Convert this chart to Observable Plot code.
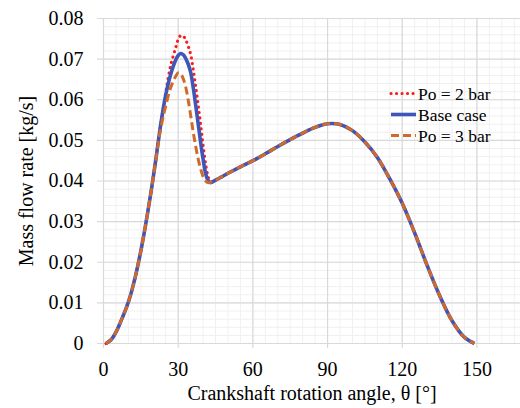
<!DOCTYPE html>
<html>
<head>
<meta charset="utf-8">
<script src="https://cdn.jsdelivr.net/npm/d3@7"></script>
<script src="https://cdn.jsdelivr.net/npm/@observablehq/plot@0.6"></script>
<style>
  html, body { margin: 0; padding: 0; background: #fff; }
  #chart { width: 520px; height: 408px; }
  #chart svg, #chart svg text { font-family: "Liberation Serif", "Times New Roman", Times, Tinos, "DejaVu Serif", "Noto Serif", serif !important; }
</style>
</head>
<body>
<div id="chart"></div>
<script>
const angles = [1,3,5,7,9,11,13,15,17,19,20,21,22,23,25,27,29,30,31,32,33,34,35,36,37,38,39,40,41,42,43,45,50,55,60,65,70,75,80,85,90,95,100,105,110,115,120,125,130,135,140,145,149];
const baseCase = [0,0.0009,0.0028,0.0055,0.0085,0.0122,0.0170,0.0228,0.0295,0.0370,0.0410,0.0452,0.0497,0.0540,0.0612,0.0663,0.0698,0.0709,0.0714,0.0711,0.0702,0.0688,0.0668,0.0632,0.0588,0.0542,0.0496,0.0454,0.0419,0.0401,0.0396,0.0402,0.0419,0.0435,0.0450,0.0467,0.0485,0.0502,0.0518,0.0532,0.0541,0.0539,0.0524,0.0496,0.0458,0.0405,0.0345,0.0272,0.0192,0.0118,0.0056,0.0015,0];
const po2bar = [0,0.0009,0.0028,0.0055,0.0085,0.0122,0.0170,0.0228,0.0295,0.0370,0.0410,0.0452,0.0497,0.0540,0.0618,0.0685,0.0728,0.0748,0.0758,0.0757,0.0748,0.0732,0.0712,0.0676,0.0634,0.0588,0.0540,0.0488,0.0443,0.0411,0.0398,0.0402,0.0419,0.0435,0.0450,0.0467,0.0485,0.0502,0.0518,0.0532,0.0541,0.0539,0.0524,0.0496,0.0458,0.0405,0.0345,0.0272,0.0192,0.0118,0.0056,0.0015,0];
const po3bar = [0,0.0009,0.0028,0.0055,0.0085,0.0122,0.0170,0.0228,0.0295,0.0370,0.0410,0.0450,0.0493,0.0530,0.0585,0.0630,0.0658,0.0666,0.0664,0.0652,0.0632,0.0600,0.0562,0.0522,0.0486,0.0455,0.0430,0.0411,0.0400,0.0396,0.0397,0.0402,0.0419,0.0435,0.0450,0.0467,0.0485,0.0502,0.0518,0.0532,0.0541,0.0539,0.0524,0.0496,0.0458,0.0405,0.0345,0.0272,0.0192,0.0118,0.0056,0.0015,0];
const seriesNames = ["Po = 2 bar", "Base case", "Po = 3 bar"];
const xTicks = [0, 30, 60, 90, 120, 150];
const yTicks = [0, 0.01, 0.02, 0.03, 0.04, 0.05, 0.06, 0.07, 0.08];
const xMinor = d3.range(0, 170, 5);
const yMinor = d3.range(0, 0.0801, 0.002);

const mk = (vals) => angles.map((a, i) => ({angle: a, value: vals[i]}));
const dPo2 = mk(po2bar), dBase = mk(baseCase), dPo3 = mk(po3bar);

const styles = [
  {stroke: "#ff1a1a", strokeWidth: 3.1, strokeDasharray: "0.1 5.4", strokeLinecap: "round"},
  {stroke: "#3f56b8", strokeWidth: 3.6, strokeDasharray: null, strokeLinecap: "butt"},
  {stroke: "#d06a2a", strokeWidth: 3, strokeDasharray: "8 4", strokeLinecap: "butt"}
];

const font = "Liberation Serif, Times New Roman, serif";

const plot = Plot.plot({
  width: 520,
  height: 408,
  marginLeft: 103,
  marginRight: 0,
  marginTop: 18,
  marginBottom: 65,
  style: {fontSize: "20px", color: "#000", background: "#fff", overflow: "visible"},
  x: {domain: [0, 167.5]},
  y: {domain: [0, 0.08]},
  marks: [
    Plot.ruleX(xMinor, {stroke: "#f0f0f0", strokeWidth: 1}),
    Plot.ruleY(yMinor, {stroke: "#f0f0f0", strokeWidth: 1}),
    Plot.ruleX(xTicks, {stroke: "#d9d9d9", strokeWidth: 1.2, insetBottom: -5}),
    Plot.ruleY(yTicks, {stroke: "#d9d9d9", strokeWidth: 1.2, insetLeft: -6}),
    Plot.axisX(xTicks, {tickSize: 0, tickPadding: 18, fontSize: 20, label: "Crankshaft rotation angle, θ [°]", labelAnchor: "center", labelArrow: "none", labelOffset: 56}),
    Plot.axisY(yTicks, {tickSize: 0, tickPadding: 20, fontSize: 20, tickFormat: d => d === 0 ? "0" : d3.format(".2f")(d), label: "Mass flow rate [kg/s]", labelAnchor: "center", labelArrow: "none", labelOffset: 85}),
    Plot.line(dPo2, {x: "angle", y: "value", curve: "catmull-rom", ...styles[0]}),
    Plot.line(dBase, {x: "angle", y: "value", curve: "catmull-rom", ...styles[1]}),
    Plot.line(dPo3, {x: "angle", y: "value", curve: "catmull-rom", ...styles[2]})
  ]
});
document.getElementById("chart").appendChild(plot);

// legend inside the plot area
const svg = d3.select(plot);
const lg = svg.append("g").attr("font-size", "17.5px").attr("text-anchor", "start");
seriesNames.forEach((name, i) => {
  const y = 93.5 + i * 21;
  const s = styles[i];
  lg.append("line")
    .attr("x1", 391).attr("x2", 416).attr("y1", y).attr("y2", y)
    .attr("stroke", s.stroke).attr("stroke-width", s.strokeWidth)
    .attr("stroke-dasharray", s.strokeDasharray)
    .attr("stroke-linecap", s.strokeLinecap);
  lg.append("text").attr("x", 418).attr("y", y).attr("dy", "0.35em").attr("fill", "#000").attr("text-anchor", "start").text(name);
});
</script>
</body>
</html>
